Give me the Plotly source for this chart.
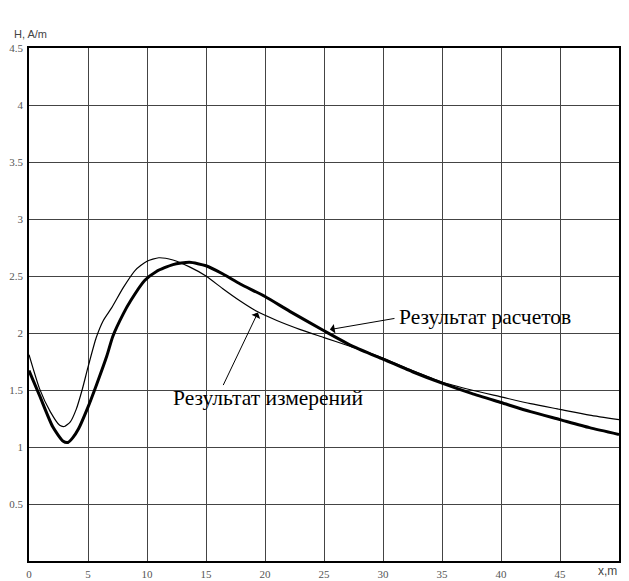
import plotly.graph_objects as go

# Measured (thin line)
x_meas = [0, 0.9, 1.8, 2.6, 3.0, 3.5, 4.0, 4.5, 5.0, 5.7, 6.3, 7.0, 8.0, 9.0, 10.0, 11.0,
          12.2, 13.6, 15, 16.4, 17.9, 19.3, 21, 23, 25, 27, 29, 30, 32.5, 35, 37.5,
          40, 42.5, 45, 47.5, 50]
h_meas = [1.81, 1.51, 1.31, 1.19, 1.18, 1.22, 1.33, 1.50, 1.70, 1.96, 2.11, 2.22, 2.40,
          2.55, 2.63, 2.66, 2.64, 2.58, 2.50, 2.39, 2.28, 2.19, 2.11, 2.03, 1.96, 1.89,
          1.82, 1.78, 1.67, 1.57, 1.50, 1.44, 1.38, 1.33, 1.28, 1.24]

# Calculated (thick line)
x_calc = [0, 0.9, 2.0, 2.9, 3.3, 3.7, 4.2, 5.0, 5.7, 6.6, 7.1, 8.0, 8.6, 9.8, 10.8, 12.2,
          13.6, 15, 16.4, 17.9, 20, 22.1, 25, 27.5, 30, 32.5, 35, 37.5, 40, 42.5, 45,
          47.5, 50]
h_calc = [1.67, 1.45, 1.18, 1.05, 1.04, 1.08, 1.16, 1.35, 1.54, 1.80, 1.97, 2.17, 2.28,
          2.46, 2.54, 2.60, 2.62, 2.59, 2.52, 2.43, 2.32, 2.19, 2.02, 1.88, 1.77, 1.66,
          1.56, 1.47, 1.39, 1.31, 1.24, 1.17, 1.11]

x_ticks = [0, 5, 10, 15, 20, 25, 30, 35, 40, 45]
x_tick_text = ["0", "5", "10", "15", "20", "25", "30", "35", "40", "45"]
y_ticks = [0.5, 1, 1.5, 2, 2.5, 3, 3.5, 4, 4.5]
y_tick_text = ["0.5", "1", "1.5", "2", "2.5", "3", "3.5", "4", "4.5"]

label_calc = "Результат расчетов"
label_meas = "Результат измерений"

serif = "Liberation Serif, DejaVu Serif, Times New Roman, serif"

fig = go.Figure()
fig.add_trace(go.Scatter(x=x_meas, y=h_meas, mode="lines",
                         line=dict(color="black", width=1.2, shape="spline", smoothing=0.6),
                         showlegend=False, hoverinfo="skip"))
fig.add_trace(go.Scatter(x=x_calc, y=h_calc, mode="lines",
                         line=dict(color="black", width=3, shape="spline", smoothing=0.6),
                         showlegend=False, hoverinfo="skip"))

grid_col = "#444444"
tick_font = dict(family=serif, size=11, color="#555555")

fig.update_xaxes(range=[0, 50], tickvals=x_ticks, ticktext=x_tick_text,
                 showgrid=True, gridcolor=grid_col, gridwidth=1.3,
                 showline=True, linecolor="black", linewidth=1.5, mirror=True,
                 zeroline=False, ticks="", tickfont=tick_font, ticklabelstandoff=2,
                 automargin=False)
fig.update_yaxes(range=[0, 4.5], tickvals=y_ticks, ticktext=y_tick_text,
                 showgrid=True, gridcolor=grid_col, gridwidth=1.3,
                 showline=True, linecolor="black", linewidth=1.5, mirror=True,
                 zeroline=False, ticks="", tickfont=tick_font, ticklabelstandoff=2,
                 automargin=False)

text_font = dict(family=serif, size=21.5, color="black")
annotations = [
    # text labels
    dict(x=31.2, y=2.14, xref="x", yref="y", text=label_calc, showarrow=False,
         xanchor="left", yanchor="middle", font=text_font),
    dict(x=12.0, y=1.43, xref="x", yref="y", text=label_meas, showarrow=False,
         xanchor="left", yanchor="middle", font=text_font),
    # arrows
    dict(x=25.5, y=2.03, xref="x", yref="y", ax=31.1, ay=2.13, axref="x", ayref="y",
         text="", showarrow=True, arrowhead=1, arrowsize=1.6, arrowwidth=1,
         arrowcolor="black", standoff=0, startstandoff=0),
    dict(x=19.4, y=2.18, xref="x", yref="y", ax=16.4, ay=1.53, axref="x", ayref="y",
         text="", showarrow=True, arrowhead=1, arrowsize=1.6, arrowwidth=1,
         arrowcolor="black", standoff=0, startstandoff=0),
    # axis titles
    dict(x=0, y=1, xref="paper", yref="paper", text="H, A/m", showarrow=False,
         xanchor="left", yanchor="bottom", xshift=-17, yshift=6,
         font=dict(family="Liberation Sans", size=11, color="#444444")),
    dict(x=1, y=0, xref="paper", yref="paper", text="x,m", showarrow=False,
         xanchor="right", yanchor="top", xshift=0, yshift=-1,
         font=dict(family="Liberation Sans", size=12, color="#444444")),
]

# page body adds an 8px margin, so the figure is sized to fit the window
fig.update_layout(width=621, height=573,
                  margin=dict(l=21, r=10, t=40, b=20),
                  paper_bgcolor="white", plot_bgcolor="white",
                  annotations=annotations)

fig.write_html("out.html")
